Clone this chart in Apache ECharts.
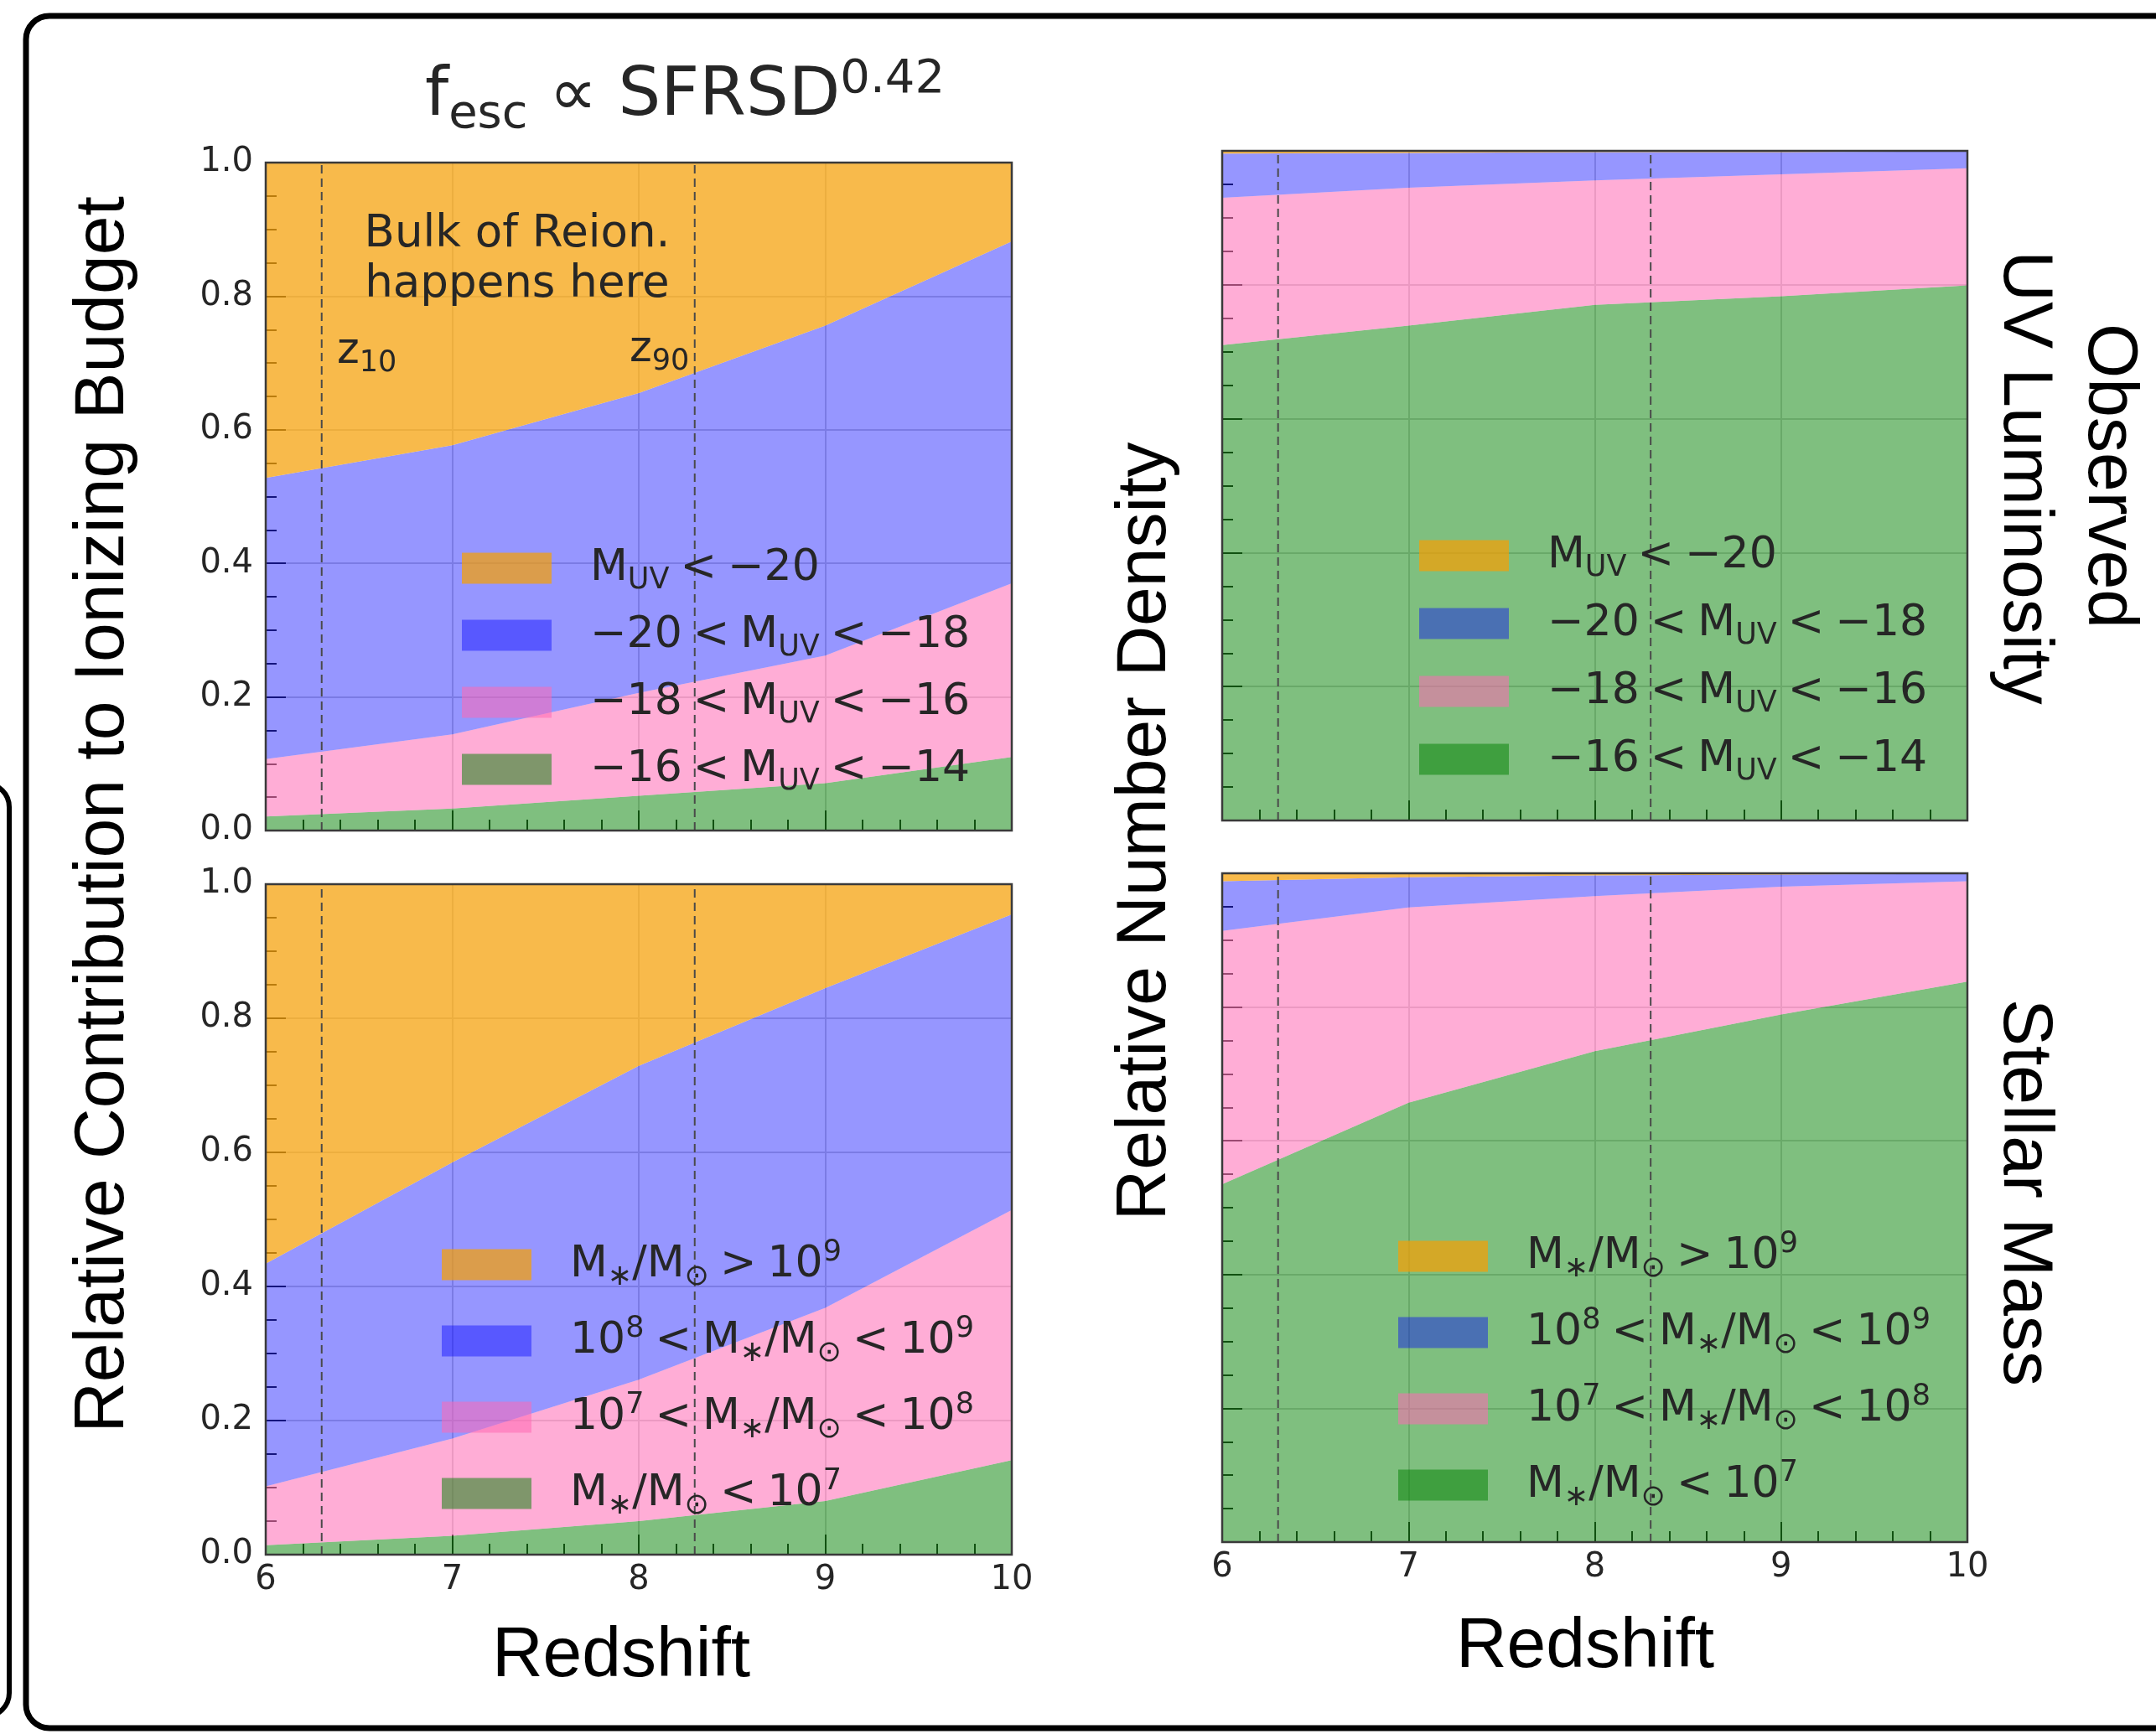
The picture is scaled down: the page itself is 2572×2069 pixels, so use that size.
<!DOCTYPE html>
<html>
<head>
<meta charset="utf-8">
<script src="https://cdn.jsdelivr.net/npm/echarts@6/dist/echarts.min.js"></script>
<style>
  html, body { margin: 0; padding: 0; background: #ffffff; }
  #chart { width: 2572px; height: 2069px; }
</style>
</head>
<body>
<div id="chart"></div>
<script>
// ---------------------------------------------------------------
// Data
// ---------------------------------------------------------------
const redshift = ['6', '7', '8', '9', '10'];

// Redshifts where the Universe is 10% and 90% reionized
const z10 = 6.3;
const z90 = 8.3;

// Fraction of the ionizing budget, binned by observed UV magnitude
const ionUV_faint = [0.021, 0.033, 0.052, 0.071, 0.110];   // -16 < MUV < -14
const ionUV_mid   = [0.086, 0.111, 0.154, 0.191, 0.260];   // -18 < MUV < -16
const ionUV_bright= [0.421, 0.433, 0.449, 0.494, 0.512];   // -20 < MUV < -18
const ionUV_top   = [0.472, 0.423, 0.345, 0.244, 0.118];   // MUV < -20

// Fraction of the ionizing budget, binned by stellar mass
const ionMass_lt7  = [0.014, 0.028, 0.050, 0.080, 0.141];
const ionMass_7_8  = [0.088, 0.145, 0.211, 0.288, 0.373];
const ionMass_8_9  = [0.332, 0.412, 0.468, 0.477, 0.441];
const ionMass_gt9  = [0.566, 0.415, 0.271, 0.155, 0.045];

// Relative number density, binned by observed UV magnitude
const numUV_faint  = [0.710, 0.739, 0.770, 0.783, 0.799];
const numUV_mid    = [0.220, 0.206, 0.186, 0.182, 0.175];
const numUV_bright = [0.066, 0.052, 0.042, 0.033, 0.025];
const numUV_top    = [0.004, 0.003, 0.002, 0.002, 0.001];

// Relative number density, binned by stellar mass
const numMass_lt7  = [0.535, 0.657, 0.734, 0.789, 0.838];
const numMass_7_8  = [0.379, 0.292, 0.232, 0.191, 0.150];
const numMass_8_9  = [0.074, 0.045, 0.031, 0.018, 0.011];
const numMass_gt9  = [0.012, 0.006, 0.003, 0.002, 0.001];

// Bin names (brightest / most massive first) and their legend text
const SP = '\u2005';
const uvBins   = ['MUV < -20', '-20 < MUV < -18', '-18 < MUV < -16', '-16 < MUV < -14'];
const uvLabels = [
  'M{s|UV}' + SP + '<' + SP + '\u221220',
  '\u221220' + SP + '<' + SP + 'M{s|UV}' + SP + '<' + SP + '\u221218',
  '\u221218' + SP + '<' + SP + 'M{s|UV}' + SP + '<' + SP + '\u221216',
  '\u221216' + SP + '<' + SP + 'M{s|UV}' + SP + '<' + SP + '\u221214'
];
const massBins   = ['M > 1e9', '1e8 < M < 1e9', '1e7 < M < 1e8', 'M < 1e7'];
const MSTAR = 'M{s|\u2217}/M{s|\u2299}';
const massLabels = [
  MSTAR + SP + '>' + SP + '10{p|9}',
  '10{p|8}' + SP + '<' + SP + MSTAR + SP + '<' + SP + '10{p|9}',
  '10{p|7}' + SP + '<' + SP + MSTAR + SP + '<' + SP + '10{p|8}',
  MSTAR + SP + '<' + SP + '10{p|7}'
];

// ---------------------------------------------------------------
// Styling
// ---------------------------------------------------------------
const bandColors = ['rgba(245,160,5,0.72)', 'rgba(0,0,255,0.41)',
                    'rgba(255,105,180,0.55)', 'rgba(0,128,0,0.5)'];
const MONO = 'DejaVu Sans';
const SANS = 'Liberation Sans';
const INK = '#262626';

const labelMap = {};
uvBins.forEach((n, k) => { labelMap[n] = uvLabels[k]; });
massBins.forEach((n, k) => { labelMap[n] = massLabels[k]; });

const panels = [
  { rect: { left: 317, top: 194, width: 890, height: 797 },
    bands: [ionUV_top, ionUV_bright, ionUV_mid, ionUV_faint], bins: uvBins,
    xLabels: false, yLabels: true, legend: { left: 551, top: 646, itemGap: 16 } },
  { rect: { left: 317, top: 1055, width: 890, height: 800 },
    bands: [ionMass_gt9, ionMass_8_9, ionMass_7_8, ionMass_lt7], bins: massBins,
    xLabels: true, yLabels: true, legend: { left: 527, top: 1477, itemGap: 27 } },
  { rect: { left: 1458, top: 180, width: 889, height: 799 },
    bands: [numUV_top, numUV_bright, numUV_mid, numUV_faint], bins: uvBins,
    xLabels: false, yLabels: false, legend: { left: 1693, top: 631, itemGap: 17 } },
  { rect: { left: 1458, top: 1042, width: 889, height: 798 },
    bands: [numMass_gt9, numMass_8_9, numMass_7_8, numMass_lt7], bins: massBins,
    xLabels: true, yLabels: false, legend: { left: 1668, top: 1467, itemGap: 27 } }
];

const tickStyle = { color: '#222', width: 2 };
const gridLine = { color: '#d2d2d2', width: 2 };

const grids = [], xAxes = [], yAxes = [], series = [], legends = [];

panels.forEach((p, i) => {
  grids.push(Object.assign({
    show: true, z: 5, backgroundColor: 'transparent',
    borderColor: '#3a3a3a', borderWidth: 2.5, containLabel: false
  }, p.rect));

  // category axis carrying the stacked bands
  xAxes.push({ gridIndex: i, type: 'category', data: redshift, boundaryGap: false, show: false });
  // value axis for ticks, labels and the reionization markers
  xAxes.push({
    gridIndex: i, type: 'value', min: 6, max: 10, interval: 1, position: 'bottom', z: 0,
    axisLine: { show: false, onZero: false },
    axisTick: { show: true, inside: true, length: 24, lineStyle: tickStyle },
    minorTick: { show: true, splitNumber: 5, length: 13, lineStyle: tickStyle },
    axisLabel: { show: p.xLabels, fontFamily: MONO, fontSize: 40, color: INK, margin: 11 },
    splitLine: { show: true, lineStyle: gridLine }
  });
  yAxes.push({
    gridIndex: i, type: 'value', min: 0, max: 1, interval: 0.2, z: 0,
    axisLine: { show: false, onZero: false },
    axisTick: { show: true, inside: true, length: 24, lineStyle: tickStyle },
    minorTick: { show: true, splitNumber: 4, length: 13, lineStyle: tickStyle },
    axisLabel: { show: p.yLabels, fontFamily: MONO, fontSize: 40, color: INK, margin: 15,
                 formatter: v => v.toFixed(1) },
    splitLine: { show: true, lineStyle: gridLine }
  });

  // stacked bands, bottom (faint / low mass) to top
  for (let k = 3; k >= 0; k--) {
    series.push({
      name: p.bins[k], type: 'line', xAxisIndex: 2 * i, yAxisIndex: i,
      stack: 'panel' + i, data: p.bands[k], symbol: 'none', showSymbol: false,
      color: bandColors[k], itemStyle: { color: bandColors[k] },
      lineStyle: { width: 0, color: bandColors[k] },
      areaStyle: { color: bandColors[k], opacity: 1 },
      silent: true, emphasis: { disabled: true }, z: 2
    });
  }
  // dashed markers at z10 and z90
  [z10, z90].forEach(z => {
    series.push({
      type: 'line', xAxisIndex: 2 * i + 1, yAxisIndex: i,
      data: [[z, 0], [z, 1]], symbol: 'none', showSymbol: false,
      lineStyle: { type: [10, 6], color: '#4a4a4a', width: 2 },
      silent: true, emphasis: { disabled: true }, z: 3
    });
  });

  const richSmall = { fontFamily: MONO, fontSize: 35, color: INK };
  legends.push({
    left: p.legend.left, top: p.legend.top, orient: 'vertical', padding: 0,
    itemGap: p.legend.itemGap, itemWidth: 107, itemHeight: 37, icon: 'rect',
    selectedMode: false, z: 4,
    data: p.bins.map((n, k) => ({
      name: n, itemStyle: { color: bandColors[k], borderWidth: 0, opacity: 1 }
    })),
    formatter: n => labelMap[n],
    textStyle: {
      fontFamily: MONO, fontSize: 52, lineHeight: 64, color: INK, padding: [0, 0, 0, 41],
      rich: {
        s: Object.assign({ lineHeight: 35, verticalAlign: 'bottom' }, richSmall),
        p: Object.assign({ lineHeight: 35, verticalAlign: 'top' }, richSmall)
      }
    }
  });
});

// ---------------------------------------------------------------
// Titles, annotations and the surrounding frame
// ---------------------------------------------------------------
const graphics = [
  { type: 'rect', silent: true, z: 10,
    shape: { x: 31, y: 19, width: 2620, height: 2043, r: 28 },
    style: { fill: 'none', stroke: '#000', lineWidth: 7 } },
  { type: 'rect', silent: true, z: 10,
    shape: { x: -200, y: 935, width: 211, height: 1113, r: 28 },
    style: { fill: 'none', stroke: '#000', lineWidth: 6 } },
  { type: 'text', x: 817, y: 116, z: 10, silent: true,
    style: {
      text: 'f{s|esc} \u221d SFRSD{p|0.42}', fontFamily: MONO, fontSize: 80, lineHeight: 98,
      fill: INK, align: 'center', verticalAlign: 'middle',
      rich: {
        s: { fontFamily: MONO, fontSize: 56, lineHeight: 60, verticalAlign: 'bottom', fill: INK },
        p: { fontFamily: MONO, fontSize: 56, lineHeight: 54, verticalAlign: 'top', fill: INK }
      }
    } },
  { type: 'text', x: 617, y: 310, z: 10, silent: true,
    style: { text: 'Bulk of Reion.\nhappens here', fontFamily: MONO, fontSize: 53, lineHeight: 60,
             fill: INK, align: 'center', verticalAlign: 'middle' } },
  { type: 'text', x: 402, y: 420, z: 10, silent: true,
    style: { text: 'z{s|10}', fontFamily: MONO, fontSize: 51, lineHeight: 62, fill: INK,
             align: 'left', verticalAlign: 'middle',
             rich: { s: { fontFamily: MONO, fontSize: 35, lineHeight: 34, verticalAlign: 'bottom', fill: INK } } } },
  { type: 'text', x: 751, y: 418, z: 10, silent: true,
    style: { text: 'z{s|90}', fontFamily: MONO, fontSize: 51, lineHeight: 62, fill: INK,
             align: 'left', verticalAlign: 'middle',
             rich: { s: { fontFamily: MONO, fontSize: 35, lineHeight: 34, verticalAlign: 'bottom', fill: INK } } } },
  { type: 'text', x: 741, y: 1977, z: 10, silent: true,
    style: { text: 'Redshift', fontFamily: SANS, fontSize: 84, fill: '#000', align: 'center', verticalAlign: 'middle' } },
  { type: 'text', x: 1891, y: 1966, z: 10, silent: true,
    style: { text: 'Redshift', fontFamily: SANS, fontSize: 84, fill: '#000', align: 'center', verticalAlign: 'middle' } },
  { type: 'text', x: 124, y: 972, rotation: Math.PI / 2, z: 10, silent: true,
    style: { text: 'Relative Contribution to Ionizing Budget', fontFamily: SANS, fontSize: 84,
             fill: '#000', align: 'center', verticalAlign: 'middle' } },
  { type: 'text', x: 1367, y: 992, rotation: Math.PI / 2, z: 10, silent: true,
    style: { text: 'Relative Number Density', fontFamily: SANS, fontSize: 84,
             fill: '#000', align: 'center', verticalAlign: 'middle' } },
  { type: 'text', x: 2515, y: 568, rotation: -Math.PI / 2, z: 10, silent: true,
    style: { text: 'Observed', fontFamily: SANS, fontSize: 84,
             fill: '#000', align: 'center', verticalAlign: 'middle' } },
  { type: 'text', x: 2414, y: 570, rotation: -Math.PI / 2, z: 10, silent: true,
    style: { text: 'UV Luminosity', fontFamily: SANS, fontSize: 84,
             fill: '#000', align: 'center', verticalAlign: 'middle' } },
  { type: 'text', x: 2414, y: 1423, rotation: -Math.PI / 2, z: 10, silent: true,
    style: { text: 'Stellar Mass', fontFamily: SANS, fontSize: 84,
             fill: '#000', align: 'center', verticalAlign: 'middle' } }
];

const chart = echarts.init(document.getElementById('chart'), null,
                           { renderer: 'canvas', width: 2572, height: 2069 });
chart.setOption({
  animation: false,
  backgroundColor: '#ffffff',
  grid: grids,
  xAxis: xAxes,
  yAxis: yAxes,
  legend: legends,
  series: series,
  graphic: graphics
});
</script>
</body>
</html>
